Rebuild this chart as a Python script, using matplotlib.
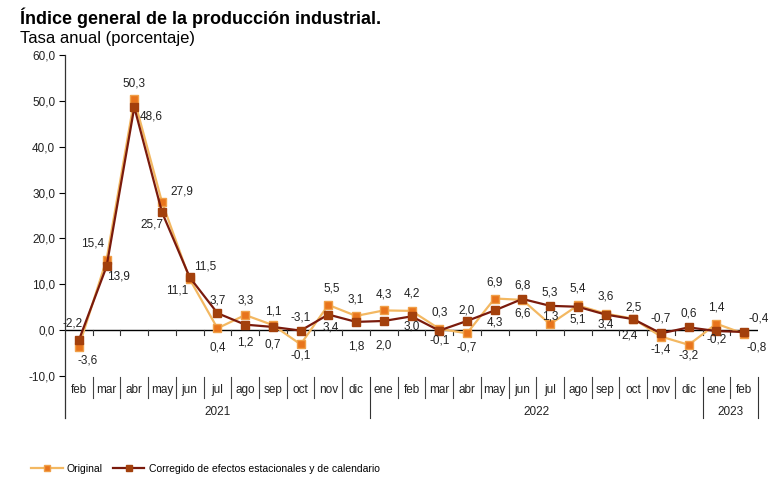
import numpy as np
import matplotlib.pyplot as plt
from matplotlib.lines import Line2D

plt.rcParams['font.family'] = ['Liberation Sans', 'DejaVu Sans']

# datos
months = ['feb', 'mar', 'abr', 'may', 'jun', 'jul', 'ago', 'sep', 'oct', 'nov', 'dic',
          'ene', 'feb', 'mar', 'abr', 'may', 'jun', 'jul', 'ago', 'sep', 'oct', 'nov', 'dic',
          'ene', 'feb']
years = ['2021', '2022', '2023']
year_counts = [11, 12, 2]
original = [-3.6, 15.4, 50.3, 27.9, 11.1, 0.4, 3.3, 1.1, -3.1, 5.5, 3.1,
            4.3, 4.2, 0.3, -0.7, 6.9, 6.6, 1.3, 5.4, 3.6, 2.5, -1.4, -3.2,
            1.4, -0.8]
corregido = [-2.2, 13.9, 48.6, 25.7, 11.5, 3.7, 1.2, 0.7, -0.1, 3.4, 1.8,
             2.0, 3.0, -0.1, 2.0, 4.3, 6.8, 5.3, 5.1, 3.4, 2.4, -0.7, 0.6,
             -0.2, -0.4]

# desplazamiento de etiquetas (px, y hacia abajo)
off_orig = [(9, 14), (-14, -16), (0, -16), (20, -11), (-13, 11), (0, 19), (0, -15),
            (0, -14), (0, -27), (3, -16), (0, -16), (0, -16), (0, -17), (0, -16),
            (0, 14), (0, -16), (0, 14), (0, -8), (0, -17), (0, -17), (0, -11),
            (0, 13), (0, 11), (0, -16), (12, 14)]
off_corr = [(-6, -17), (12, 10), (17, 9), (-10, 12), (15, -11), (0, -13), (0, 18),
            (0, 18), (0, 25), (2, 13), (0, 25), (0, 25), (0, 10), (0, 10),
            (0, -10), (0, 12), (0, -13), (0, -13), (0, 13), (0, 10), (-4, 16),
            (0, -15), (0, -14), (0, 8), (15, -13)]

c_orig_line = '#F3B862'
c_orig_mk = '#E8741C'
c_corr_line = '#7A1A0C'
c_corr_mk = '#A3400C'

fig = plt.figure(figsize=(7.76, 5.01), dpi=100)
ax = fig.add_axes([65 / 776, 1 - 376 / 501, 693 / 776, 321 / 501])

x = np.arange(len(months))
ax.plot(x, original, color=c_orig_line, lw=1.6, marker='s', ms=6,
        mfc=c_orig_mk, mec='#F0A048', mew=1, label='Original', zorder=3)
ax.plot(x, corregido, color=c_corr_line, lw=1.6, marker='s', ms=6,
        mfc=c_corr_mk, mec=c_corr_mk, label='Corregido de efectos estacionales y de calendario', zorder=4)

def fmt(v):
    return f'{v:.1f}'.replace('.', ',')

for i in range(len(months)):
    for vals, offs in ((original, off_orig), (corregido, off_corr)):
        dx, dy = offs[i]
        ax.annotate(fmt(vals[i]), (x[i], vals[i]), xytext=(dx, -dy), textcoords='offset pixels',
                    ha='center', va='center', fontsize=8.5, color='#222222', zorder=5)

ax.set_xlim(-0.5, len(months) - 0.5)
ax.set_ylim(-10, 60)
ax.set_yticks(np.arange(-10, 61, 10))
ax.set_yticklabels([fmt(v) for v in np.arange(-10, 61, 10)], fontsize=8.5, color='#222222')
ax.tick_params(axis='y', length=4, width=0.8, pad=3)
ax.set_xticks([])
for s in ['top', 'right', 'bottom', 'left']:
    ax.spines[s].set_visible(False)

ax.axhline(0, color='black', lw=1, zorder=2)

# eje vertical extendido
ax.add_line(Line2D([0, 0], [-0.131, 1], transform=ax.transAxes, color='#333333', lw=0.9, clip_on=False))

trans = ax.get_xaxis_transform()
for b in np.arange(0.5, len(months) - 0.5, 1):
    ax.plot([b, b], [0, -1.0], color='#333333', lw=0.8, zorder=2)

# etiquetas de meses
for i, m in enumerate(months):
    ax.text(i, -0.044, m, transform=trans, ha='center', va='center', fontsize=8.5, color='#222222')

year_bounds = np.cumsum([0] + year_counts) - 0.5
for b in np.arange(0.5, len(months) - 0.5, 1):
    if b in year_bounds:
        continue
    ax.add_line(Line2D([b, b], [-0.003, -0.069], transform=trans, color='#444444', lw=0.8, clip_on=False))
for b in year_bounds[1:]:
    ax.add_line(Line2D([b, b], [-0.003, -0.131], transform=trans, color='#333333', lw=0.8, clip_on=False))
for k, yr in enumerate(years):
    ax.text((year_bounds[k] + year_bounds[k + 1]) / 2, -0.113, yr, transform=trans,
            ha='center', va='center', fontsize=8.5, color='#222222')

fig.text(20 / 776, 1 - 18 / 501, 'Índice general de la producción industrial.', fontsize=13,
         fontweight='bold', va='center', ha='left')
fig.text(20 / 776, 1 - 38 / 501, 'Tasa anual (porcentaje)', fontsize=12, va='center', ha='left')

fig.legend(loc='center left', bbox_to_anchor=(22 / 776, 1 - 469 / 501), ncol=2, frameon=False,
           fontsize=7.5, handlelength=3, handletextpad=0.4, columnspacing=1.0, markerscale=0.7)

fig.savefig('out.png', dpi=100, facecolor='white')
